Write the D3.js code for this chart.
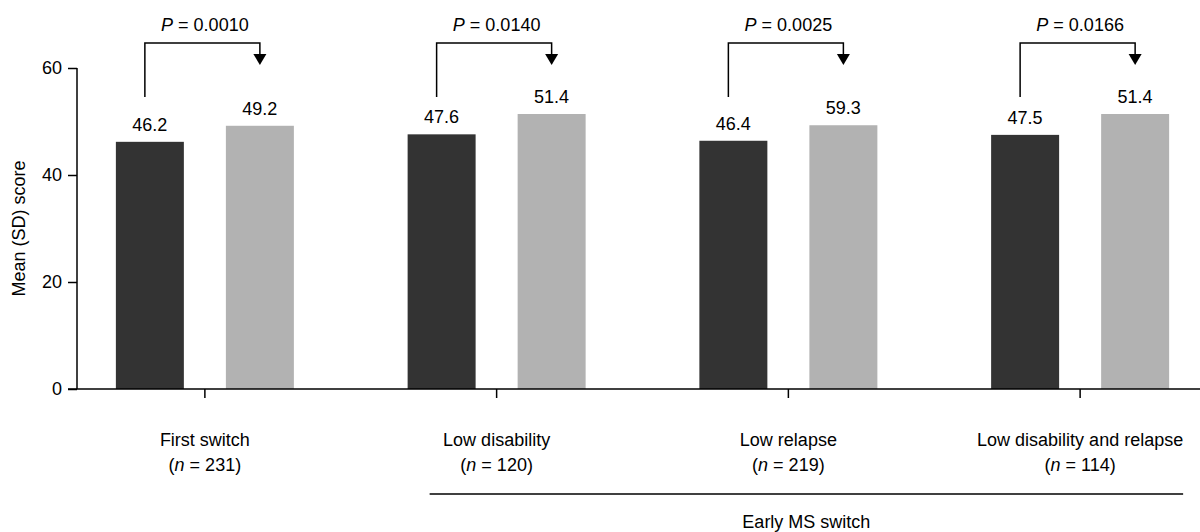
<!DOCTYPE html>
<html>
<head>
<meta charset="utf-8">
<script src="https://cdn.jsdelivr.net/npm/d3@7"></script>
<style>
  html, body { margin: 0; padding: 0; background: #fff; }
  svg { display: block; font-family: "Liberation Sans", Arial, sans-serif; }
</style>
</head>
<body>
<svg id="chart" width="1200" height="532"></svg>
<script>
// ---- Data ----
const categories = ["First switch", "Low disability", "Low relapse", "Low disability and relapse"];
const sampleSizes = [231, 120, 219, 114];
const seriesKeys = ["before", "after"];
const beforeValues = [46.2, 47.6, 46.4, 47.5];
const afterValues = [49.2, 51.4, 49.3, 51.4];
const beforeLabels = ["46.2", "47.6", "46.4", "47.5"];
const afterLabels = ["49.2", "51.4", "59.3", "51.4"];
const pValues = ["0.0010", "0.0140", "0.0025", "0.0166"];
const yTicks = [0, 20, 40, 60];
const groupLabel = "Early MS switch";
const groupedCategories = ["Low disability", "Low relapse", "Low disability and relapse"];
const yTitle = "Mean (SD) score";

const colors = { before: "#333333", after: "#b2b2b2" };

// ---- Layout ----
const svg = d3.select("#chart");
const y = d3.scaleLinear().domain([0, 60]).range([389, 68]);
const x = d3.scaleBand().domain(categories).range([59, 1226]).padding(0);
const inner = d3.scaleBand().domain(seriesKeys)
  .range([x.bandwidth() / 2 - 89, x.bandwidth() / 2 + 89])
  .paddingInner(0.382).paddingOuter(0);

const rows = categories.map((c, i) => ({
  cat: c, n: sampleSizes[i], p: pValues[i],
  bars: [
    { key: "before", v: beforeValues[i], label: beforeLabels[i] },
    { key: "after", v: afterValues[i], label: afterLabels[i] }
  ]
}));

// ---- Y axis ----
const yAxis = svg.append("g").attr("transform", "translate(77,0)")
  .call(d3.axisLeft(y).tickValues(yTicks).tickSize(9).tickPadding(6).tickSizeOuter(0));
yAxis.select(".domain").remove();
yAxis.selectAll("line").attr("stroke", "#000").attr("stroke-width", 1.5);
yAxis.selectAll("text").attr("font-size", 18).attr("fill", "#000")
  .attr("font-family", "Liberation Sans, Arial, sans-serif");
svg.append("line").attr("x1", 77).attr("x2", 77).attr("y1", y(60)).attr("y2", y(0))
  .attr("stroke", "#000").attr("stroke-width", 1.5);

svg.append("text")
  .attr("transform", `translate(25,${(y(0) + y(60)) / 2}) rotate(-90)`)
  .attr("text-anchor", "middle").attr("font-size", 18).attr("fill", "#000")
  .text(yTitle);

// ---- Bars ----
const g = svg.append("g").selectAll("g.grp").data(rows).join("g")
  .attr("class", "grp").attr("transform", d => `translate(${x(d.cat)},0)`);

g.selectAll("rect").data(d => d.bars).join("rect")
  .attr("x", d => inner(d.key)).attr("width", inner.bandwidth())
  .attr("y", d => y(d.v)).attr("height", d => y(0) - y(d.v))
  .attr("fill", d => colors[d.key]);

g.selectAll("text.val").data(d => d.bars).join("text")
  .attr("class", "val")
  .attr("x", d => inner(d.key) + inner.bandwidth() / 2)
  .attr("y", d => y(d.v) - 11)
  .attr("text-anchor", "middle").attr("font-size", 18).attr("fill", "#000")
  .text(d => d.label);

// ---- P-value brackets ----
const bx1 = inner("before") + inner.bandwidth() / 2 - 5;
const bx2 = inner("after") + inner.bandwidth() / 2;
g.append("path")
  .attr("d", `M${bx1},97 V43 H${bx2} V56`)
  .attr("fill", "none").attr("stroke", "#000").attr("stroke-width", 1.5);
g.append("path")
  .attr("d", `M${bx2 - 6.5},54 L${bx2 + 6.5},54 L${bx2},65 Z`)
  .attr("fill", "#000");
const pt = g.append("text").attr("x", x.bandwidth() / 2).attr("y", 31)
  .attr("text-anchor", "middle").attr("font-size", 18).attr("fill", "#000");
pt.append("tspan").attr("font-style", "italic").text("P");
pt.append("tspan").text(d => " = " + d.p);

// ---- X axis ----
svg.append("line").attr("x1", 68).attr("x2", 1200).attr("y1", y(0)).attr("y2", y(0))
  .attr("stroke", "#000").attr("stroke-width", 1.5);
const xAxis = svg.append("g").attr("transform", `translate(0,${y(0)})`)
  .call(d3.axisBottom(x).tickSize(9).tickFormat(""));
xAxis.select(".domain").remove();
xAxis.selectAll("line").attr("stroke", "#000").attr("stroke-width", 1.5);

const xl = svg.append("g").selectAll("g").data(rows).join("g")
  .attr("transform", d => `translate(${x(d.cat) + x.bandwidth() / 2},0)`);
xl.append("text").attr("y", 446).attr("text-anchor", "middle")
  .attr("font-size", 18).attr("fill", "#000").text(d => d.cat);
const nt = xl.append("text").attr("y", 471).attr("text-anchor", "middle")
  .attr("font-size", 18).attr("fill", "#000");
nt.append("tspan").text("(");
nt.append("tspan").attr("font-style", "italic").text("n");
nt.append("tspan").text(d => " = " + d.n + ")");

// ---- Group bracket ----
const gx1 = x(groupedCategories[0]) + x.bandwidth() / 2 - 67;
const gx2 = x(groupedCategories[groupedCategories.length - 1]) + x.bandwidth() / 2 + 103;
svg.append("line").attr("x1", gx1).attr("x2", gx2).attr("y1", 494).attr("y2", 494)
  .attr("stroke", "#000").attr("stroke-width", 1.5);
svg.append("text").attr("x", (gx1 + gx2) / 2).attr("y", 528)
  .attr("text-anchor", "middle").attr("font-size", 18).attr("fill", "#000")
  .text(groupLabel);
</script>
</body>
</html>
